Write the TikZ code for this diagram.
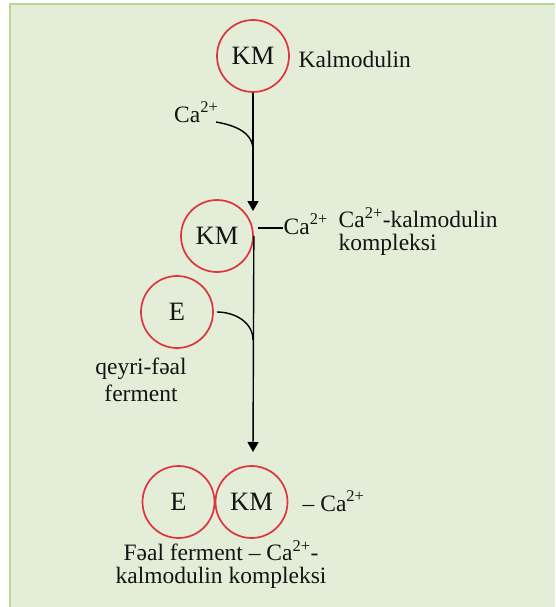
\documentclass[tikz,border=0pt]{standalone}
\usepackage{fontspec}
\setmainfont{Liberation Serif}
\usepackage{xcolor}
\usepackage{tikz}
\usetikzlibrary{arrows.meta}

\definecolor{panelbg}{RGB}{228,237,215}
\definecolor{panelrim}{RGB}{186,214,150}
\definecolor{ringred}{RGB}{222,52,62}

\begin{document}
\begin{tikzpicture}[x=1pt, y=1pt, line width=1.4pt,
    every node/.style={font=\fontsize{23.5}{23}\selectfont, inner sep=0pt, text=black!92},
    ring/.style={circle, draw=ringred, line width=1.7pt, minimum size=72pt,
      font=\fontsize{26.5}{28}\selectfont},
    flowarrow/.style={-{Triangle[length=10pt,width=11pt]}}]
      % panel, open at the right and bottom
      \useasboundingbox (0,0) rectangle (555,-607);
      \fill[white] (0,0) rectangle (555,-607);
      \fill[panelbg] (10,-4) rectangle (555,-607);
      \draw[panelrim, line width=2pt] (10,-607) -- (10,-4) -- (555,-4);
      % calmodulin
      \node[ring] (km1) at (253,-56) {KM};
      \node[anchor=base west] (kmname) at (298,-68) {Kalmodulin};
      % calcium binds
      \node[anchor=base east] (ca1) at (219,-122) {Ca\textsuperscript{2+}};
      \coordinate (join1) at (253,-150);
      \coordinate (tip1) at (253,-211);
      \draw[flowarrow] (km1.south) -- (tip1);
      \draw ([xshift=-3pt]ca1.base east) to[out=-10,in=90] (join1);
      % Ca-calmodulin complex
      \node[ring] (km2) at (217,-236) {KM};
      \node[anchor=base west] (ca2) at (283,-234) {Ca\textsuperscript{2+}};
      \coordinate (dash2) at ([yshift=6pt]ca2.base west);
      \draw[line width=1.2pt, shorten >=4pt] (dash2) -- (dash2 -| km2.east);
      \node[anchor=west, align=left] (kmcplx) at (338,-231.5)
        {Ca\textsuperscript{2+}-kalmodulin\\kompleksi};
      % inactive enzyme joins
      \node[ring] (e1) at (177,-312) {E};
      \node[align=center, font=\fontsize{23.5}{27}\selectfont] (inact) at (141,-379.5)
        {qeyri-fəal\\ferment};
      \coordinate (join2) at (253,-340);
      \coordinate (tip2) at (253,-452);
      \draw[flowarrow] (km2.east) -- (tip2);
      \draw ([xshift=3pt]e1.east) to[out=0,in=90] (join2);
      % active complex
      \node[ring] (e2) at (178.5,-502) {E};
      \node[ring] (km3) at (251.5,-502) {KM};
      \node[anchor=base west] (ca3) at (302,-511) {– Ca\textsuperscript{2+}};
      \node[align=center] (actcplx) at (221,-565)
        {Fəal ferment – Ca\textsuperscript{2+}-\\kalmodulin kompleksi};
    \end{tikzpicture}
\end{document}
